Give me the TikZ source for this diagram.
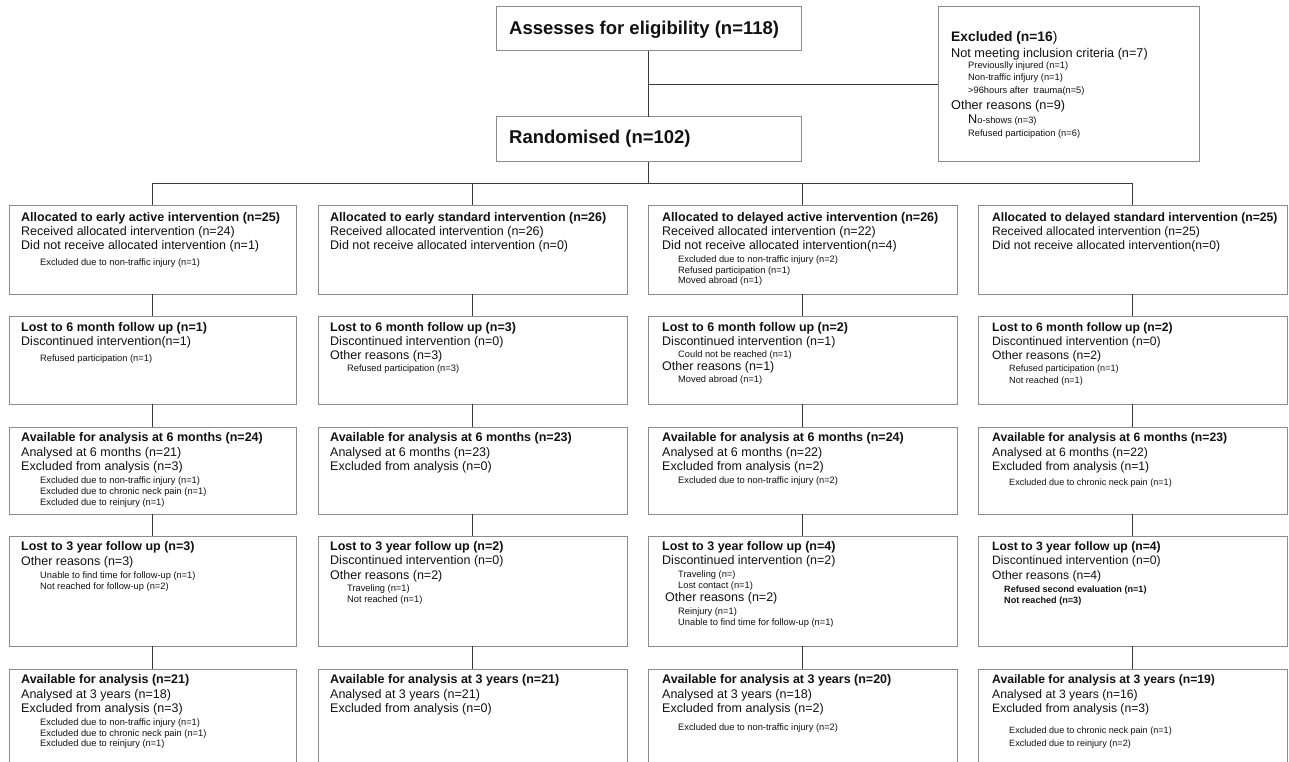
\documentclass[tikz,border=0pt]{standalone}
\usepackage{fontspec}
\setmainfont{Liberation Sans}
\definecolor{boxgray}{HTML}{8C8C8C}
\definecolor{linegray}{HTML}{3A3A3A}
\definecolor{txt}{HTML}{111111}
\begin{document}
\begin{tikzpicture}[x=1pt,y=-1pt,
  box/.style={draw=boxgray, line width=1pt, anchor=north west, inner sep=0pt, outer sep=0pt},
  conn/.style={draw=linegray, line width=1pt},
  tt/.style={anchor=base west, inner sep=0pt, font=\fontsize{18.5}{22}\selectfont\bfseries, text=txt},
  hd/.style={anchor=base west, inner sep=0pt, font=\fontsize{12.5}{15}\selectfont\bfseries, text=txt},
  tx/.style={anchor=base west, inner sep=0pt, font=\fontsize{12.5}{15}\selectfont, text=txt},
  sm/.style={anchor=base west, inner sep=0pt, font=\fontsize{9.3}{11}\selectfont, text=txt},
  hdd/.style={anchor=base west, inner sep=0pt, font=\fontsize{12.15}{15}\selectfont\bfseries, text=txt},
  txd/.style={anchor=base west, inner sep=0pt, font=\fontsize{12.15}{15}\selectfont, text=txt},
  smd/.style={anchor=base west, inner sep=0pt, font=\fontsize{9.1}{11}\selectfont, text=txt},
  smb/.style={anchor=base west, inner sep=0pt, font=\fontsize{9.1}{11}\selectfont\bfseries, text=txt},
  exh/.style={anchor=base west, inner sep=0pt, font=\fontsize{13.8}{16}\selectfont, text=txt},
  ext/.style={anchor=base west, inner sep=0pt, font=\fontsize{12.7}{15}\selectfont, text=txt},
]
\useasboundingbox (0,0) rectangle (1289,762);
\clip (0,0) rectangle (1289,762);
\fill[white] (0,0) rectangle (1289,762);

% top boxes
\node[box, minimum width=305pt, minimum height=44pt] (assess) at (496,7) {};
\node[tt] (assessT) at (509,35) {Assesses for eligibility (n=118)};
\node[box, minimum width=305pt, minimum height=45pt] (rand) at (496,117) {};
\node[tt] (randT) at (509,144) {Randomised (n=102)};
\node[box, minimum width=261pt, minimum height=155pt] (excl) at (938,7) {};
\node[exh] (exT) at (951,41.7) {{\bfseries Excluded (n=16})};
\node[ext] (ex1) at (951,57.3) {Not meeting inclusion criteria (n=7)};
\node[sm] (ex2) at (968,69) {Previouslly injured (n=1)};
\node[sm] (ex3) at (968,80.5) {Non-traffic infjury (n=1)};
\node[sm] (ex4) at (968,94) {>96hours after\ \ trauma(n=5)};
\node[ext] (ex5) at (951,109.3) {Other reasons (n=9)};
\node[sm] (ex6) at (968,124) {{\fontsize{12.7}{15}\selectfont N}o-shows (n=3)};
\node[sm] (ex7) at (968,136.7) {Refused participation (n=6)};

% column boxes
\node[box, minimum width=287pt, minimum height=89pt] (b11) at (9,205) {};
\node[box, minimum width=287pt, minimum height=88pt] (b12) at (9,316) {};
\node[box, minimum width=287pt, minimum height=87pt] (b13) at (9,427) {};
\node[box, minimum width=287pt, minimum height=110pt] (b14) at (9,536) {};
\node[box, minimum width=287pt, minimum height=120pt] (b15) at (9,669) {};

\node[box, minimum width=309pt, minimum height=89pt] (b21) at (318,205) {};
\node[box, minimum width=309pt, minimum height=88pt] (b22) at (318,316) {};
\node[box, minimum width=309pt, minimum height=87pt] (b23) at (318,427) {};
\node[box, minimum width=309pt, minimum height=110pt] (b24) at (318,536) {};
\node[box, minimum width=309pt, minimum height=120pt] (b25) at (318,669) {};

\node[box, minimum width=309pt, minimum height=89pt] (b31) at (648,205) {};
\node[box, minimum width=309pt, minimum height=88pt] (b32) at (648,316) {};
\node[box, minimum width=309pt, minimum height=87pt] (b33) at (648,427) {};
\node[box, minimum width=309pt, minimum height=110pt] (b34) at (648,536) {};
\node[box, minimum width=309pt, minimum height=120pt] (b35) at (648,669) {};

\node[box, minimum width=309pt, minimum height=89pt] (b41) at (978,205) {};
\node[box, minimum width=309pt, minimum height=88pt] (b42) at (978,316) {};
\node[box, minimum width=309pt, minimum height=87pt] (b43) at (978,427) {};
\node[box, minimum width=309pt, minimum height=110pt] (b44) at (978,536) {};
\node[box, minimum width=309pt, minimum height=120pt] (b45) at (978,669) {};

% connectors
\path (rand.south) ++(0,22) coordinate (hub);
\draw[conn] (assess.south) -- (rand.north);
\draw[conn] (assess.south |- excl.west) -- (excl.west);
\draw[conn] (rand.south) -- (hub);
\draw[conn] (b11.north) -- (b11.north |- hub) -- (b41.north |- hub) -- (b41.north);
\draw[conn] (b21.north |- hub) -- (b21.north);
\draw[conn] (b31.north |- hub) -- (b31.north);
\foreach \c in {1,2,3,4}{
  \draw[conn] (b\c1.south) -- (b\c2.north);
  \draw[conn] (b\c2.south) -- (b\c3.north);
  \draw[conn] (b\c3.south) -- (b\c4.north);
  \draw[conn] (b\c4.south) -- (b\c5.north);
}

% column 1 texts
\node[hd] (t11a) at (21,221) {Allocated to early active intervention (n=25)};
\node[tx] (t11b) at (21,235) {Received allocated intervention (n=24)};
\node[tx] (t11c) at (21,249.5) {Did not receive allocated intervention (n=1)};
\node[sm] (t11d) at (40,265) {Excluded due to non-traffic injury (n=1)};

\node[hd] (t12a) at (21,331) {Lost to 6 month follow up (n=1)};
\node[tx] (t12b) at (21,345) {Discontinued intervention(n=1)};
\node[sm] (t12c) at (40,361.5) {Refused participation (n=1)};

\node[hd] (t13a) at (21,441) {Available for analysis at 6 months (n=24)};
\node[tx] (t13b) at (21,456) {Analysed at 6 months (n=21)};
\node[tx] (t13c) at (21,470) {Excluded from analysis (n=3)};
\node[sm] (t13d) at (40,483) {Excluded due to non-traffic injury (n=1)};
\node[sm] (t13e) at (40,494) {Excluded due to chronic neck pain (n=1)};
\node[sm] (t13f) at (40,505) {Excluded due to reinjury (n=1)};

\node[hd] (t14a) at (21,550) {Lost to 3 year follow up (n=3)};
\node[tx] (t14b) at (21,565) {Other reasons (n=3)};
\node[sm] (t14c) at (40,578) {Unable to find time for follow-up (n=1)};
\node[sm] (t14d) at (40,589) {Not reached for follow-up (n=2)};

\node[hd] (t15a) at (21,683) {Available for analysis (n=21)};
\node[tx] (t15b) at (21,698) {Analysed at 3 years (n=18)};
\node[tx] (t15c) at (21,712) {Excluded from analysis (n=3)};
\node[sm] (t15d) at (40,725) {Excluded due to non-traffic injury (n=1)};
\node[sm] (t15e) at (40,736) {Excluded due to chronic neck pain (n=1)};
\node[sm] (t15f) at (40,746.5) {Excluded due to reinjury (n=1)};

% column 2 texts
\node[hd] (t21a) at (330,221) {Allocated to early standard intervention (n=26)};
\node[tx] (t21b) at (330,235) {Received allocated intervention (n=26)};
\node[tx] (t21c) at (330,249.5) {Did not receive allocated intervention (n=0)};

\node[hd] (t22a) at (330,331) {Lost to 6 month follow up (n=3)};
\node[tx] (t22b) at (330,345) {Discontinued intervention (n=0)};
\node[tx] (t22c) at (330,359.5) {Other reasons (n=3)};
\node[sm] (t22d) at (347,371) {Refused participation (n=3)};

\node[hd] (t23a) at (330,441) {Available for analysis at 6 months (n=23)};
\node[tx] (t23b) at (330,456) {Analysed at 6 months (n=23)};
\node[tx] (t23c) at (330,470) {Excluded from analysis (n=0)};

\node[hd] (t24a) at (330,550) {Lost to 3 year follow up (n=2)};
\node[tx] (t24b) at (330,564) {Discontinued intervention (n=0)};
\node[tx] (t24c) at (330,579) {Other reasons (n=2)};
\node[sm] (t24d) at (347,591.5) {Traveling (n=1)};
\node[sm] (t24e) at (347,602.5) {Not reached (n=1)};

\node[hd] (t25a) at (330,683) {Available for analysis at 3 years (n=21)};
\node[tx] (t25b) at (330,698) {Analysed at 3 years (n=21)};
\node[tx] (t25c) at (330,712) {Excluded from analysis (n=0)};

% column 3 texts
\node[hd] (t31a) at (662,221) {Allocated to delayed active intervention (n=26)};
\node[tx] (t31b) at (662,235) {Received allocated intervention (n=22)};
\node[tx] (t31c) at (662,249.5) {Did not receive allocated intervention(n=4)};
\node[sm] (t31d) at (678,262) {Excluded due to non-traffic injury (n=2)};
\node[sm] (t31e) at (678,273) {Refused participation (n=1)};
\node[sm] (t31f) at (678,283.5) {Moved abroad (n=1)};

\node[hd] (t32a) at (662,331) {Lost to 6 month follow up (n=2)};
\node[tx] (t32b) at (662,345) {Discontinued intervention (n=1)};
\node[sm] (t32c) at (678,357.5) {Could not be reached (n=1)};
\node[tx] (t32d) at (662,370) {Other reasons (n=1)};
\node[sm] (t32e) at (678,382.5) {Moved abroad (n=1)};

\node[hd] (t33a) at (662,441) {Available for analysis at 6 months (n=24)};
\node[tx] (t33b) at (662,456) {Analysed at 6 months (n=22)};
\node[tx] (t33c) at (662,470) {Excluded from analysis (n=2)};
\node[sm] (t33d) at (678,483) {Excluded due to non-traffic injury (n=2)};

\node[hd] (t34a) at (662,550) {Lost to 3 year follow up (n=4)};
\node[tx] (t34b) at (662,564) {Discontinued intervention (n=2)};
\node[sm] (t34c) at (678,577.5) {Traveling (n=)};
\node[sm] (t34d) at (678,588.5) {Lost contact (n=1)};
\node[tx] (t34e) at (665,601.5) {Other reasons (n=2)};
\node[sm] (t34f) at (678,614) {Reinjury (n=1)};
\node[sm] (t34g) at (678,625) {Unable to find time for follow-up (n=1)};

\node[hd] (t35a) at (662,683) {Available for analysis at 3 years (n=20)};
\node[tx] (t35b) at (662,698) {Analysed at 3 years (n=18)};
\node[tx] (t35c) at (662,712) {Excluded from analysis (n=2)};
\node[sm] (t35d) at (678,730) {Excluded due to non-traffic injury (n=2)};

% column 4 texts
\node[hdd] (t41a) at (992,221) {Allocated to delayed standard intervention (n=25)};
\node[txd] (t41b) at (992,235) {Received allocated intervention (n=25)};
\node[txd] (t41c) at (992,249.5) {Did not receive allocated intervention(n=0)};

\node[hdd] (t42a) at (992,331) {Lost to 6 month follow up (n=2)};
\node[txd] (t42b) at (992,345) {Discontinued intervention (n=0)};
\node[txd] (t42c) at (992,359.5) {Other reasons (n=2)};
\node[smd] (t42d) at (1009,371.5) {Refused participation (n=1)};
\node[smd] (t42e) at (1009,383) {Not reached (n=1)};

\node[hdd] (t43a) at (992,441) {Available for analysis at 6 months (n=23)};
\node[txd] (t43b) at (992,456) {Analysed at 6 months (n=22)};
\node[txd] (t43c) at (992,470) {Excluded from analysis (n=1)};
\node[smd] (t43d) at (1009,485) {Excluded due to chronic neck pain (n=1)};

\node[hdd] (t44a) at (992,550) {Lost to 3 year follow up (n=4)};
\node[txd] (t44b) at (992,564) {Discontinued intervention (n=0)};
\node[txd] (t44c) at (992,579) {Other reasons (n=4)};
\node[smb] (t44d) at (1004,592.5) {Refused second evaluation (n=1)};
\node[smb] (t44e) at (1004,603.5) {Not reached (n=3)};

\node[hdd] (t45a) at (992,683) {Available for analysis at 3 years (n=19)};
\node[txd] (t45b) at (992,698) {Analysed at 3 years (n=16)};
\node[txd] (t45c) at (992,712) {Excluded from analysis (n=3)};
\node[smd] (t45d) at (1009,733) {Excluded due to chronic neck pain (n=1)};
\node[smd] (t45e) at (1009,746.5) {Excluded due to reinjury (n=2)};
\end{tikzpicture}
\end{document}
